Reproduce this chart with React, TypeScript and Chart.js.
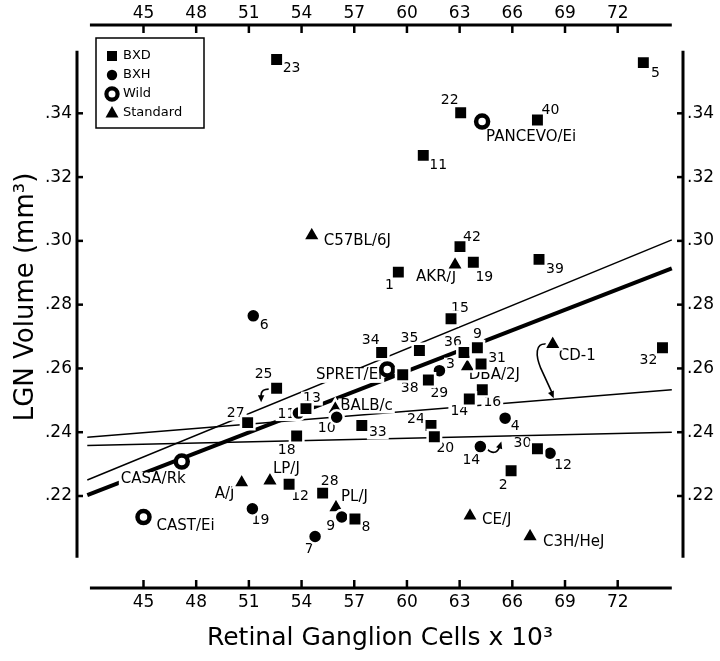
import React, { useEffect, useRef } from 'react';
import { Chart, registerables } from 'chart.js';

Chart.register(...registerables);

// ---------------- data ----------------
const xTickValues = [45, 48, 51, 54, 57, 60, 63, 66, 69, 72];
const yTickValues = [0.22, 0.24, 0.26, 0.28, 0.3, 0.32, 0.34];

const bxdNames = ['23', '5', '22', '40', '11', '42', '19', '1', '39', '15', '34', '35', '36', '9', '31', '38', '29', '32', '25', '16', '14', '13', '27', '33', '24', '18', '20', '30', '2', '12', '28', '8'];
const bxdCells = [52.58, 73.46, 63.06, 67.43, 60.93, 63.02, 63.78, 59.51, 67.52, 62.51, 58.56, 60.71, 63.25, 64.01, 64.22, 59.76, 61.22, 74.55, 52.58, 64.29, 63.55, 54.25, 50.93, 57.43, 61.37, 53.72, 61.56, 67.43, 65.93, 53.29, 55.2, 57.04];
const bxdVolume = [0.3569, 0.3559, 0.3402, 0.3379, 0.3268, 0.2982, 0.2933, 0.2902, 0.2942, 0.2756, 0.265, 0.2656, 0.265, 0.2665, 0.2614, 0.258, 0.2564, 0.2665, 0.2538, 0.2533, 0.2504, 0.2474, 0.243, 0.2421, 0.2421, 0.2388, 0.2386, 0.2348, 0.2279, 0.2237, 0.2209, 0.2128];

const bxhNames = ['6', '3', '11', '10', '4', '14', '12', '19', '9', '7'];
const bxhCells = [51.25, 61.85, 53.82, 56.0, 65.59, 64.18, 68.15, 51.2, 56.29, 54.77];
const bxhVolume = [0.2765, 0.2593, 0.246, 0.2447, 0.2444, 0.2355, 0.2334, 0.216, 0.2134, 0.2073];

const wildNames = ['PANCEVO/Ei', 'SPRET/Ei', 'CASA/Rk', 'CAST/Ei'];
const wildCells = [64.28, 58.88, 47.18, 45.0];
const wildVolume = [0.3374, 0.2597, 0.2308, 0.2134];

const standardNames = ['C57BL/6J', 'AKR/J', 'DBA/2J', 'CD-1', 'BALB/c', 'LP/J', 'A/J', 'PL/J', 'CE/J', 'C3H/HeJ'];
const standardCells = [54.58, 62.74, 63.44, 68.3, 55.92, 52.2, 50.59, 55.96, 63.59, 67.01];
const standardVolume = [0.3017, 0.2925, 0.2606, 0.2676, 0.2473, 0.2248, 0.2242, 0.2164, 0.2138, 0.2073];

const fitCells = [41.8, 75.08];
const fitThick = [0.2203, 0.2914];
const fitUpper = [0.225, 0.3003];
const fitMiddle = [0.2384, 0.2533];
const fitLower = [0.2358, 0.24];

const legendNames = ['BXD', 'BXH', 'Wild', 'Standard'];

// ---------------- layout / style (not data) ----------------
const X_MIN = 41.214;
const X_MAX = 75.718;
const Y_MIN = 0.19115;
const Y_MAX = 0.36769;
const axisCellsExtent = [41.95, 75.08];
const axisVolumeExtent = [0.2006, 0.3596];
const FONT = '"DejaVu Sans", "Liberation Sans", Arial, sans-serif';

// label placement: [align, dx, dy] relative to the marker
const bxdPlaces: [string, number, number][] = [
  ['center', 15, 9], ['center', 12, 11], ['center', -11, -12], ['center', 13, -10], ['center', 15, 10],
  ['center', 12, -9], ['center', 11, 15], ['center', -9, 13], ['center', 16, 10], ['center', 9, -10],
  ['center', -11, -12], ['center', -10, -12], ['center', -11, -10], ['center', 0, -13], ['center', 16, -6],
  ['center', 7, 14], ['center', 11, 13], ['center', -14, 13], ['center', -13, -14], ['center', 10, 13],
  ['center', -10, 12], ['center', 6, -10], ['center', -12, -9], ['center', 16, 7], ['center', -15, -6],
  ['center', -10, 14], ['center', 11, 12], ['center', -15, -5], ['center', -8, 15], ['center', 11, 12],
  ['center', 7, -12], ['center', 11, 8],
];
const bxhPlaces: [string, number, number][] = [
  ['center', 11, 10], ['center', 11, -6], ['center', -12, 1], ['center', -10, 11], ['center', 10, 8],
  ['center', -9, 14], ['center', 13, 12], ['center', 8, 12], ['center', -11, 9], ['center', -6, 13],
];
const wildPlaces: [string, number, number][] = [
  ['left', 4, 16], ['right', -5, 6], ['right', 4, 18], ['left', 13, 9],
];
const standardPlaces: [string, number, number][] = [
  ['left', 12, 6], ['center', -19, 12], ['center', 27, 9], ['left', 6, 12], ['left', 5, -3],
  ['left', 3, -12], ['center', -17, 12], ['left', 5, -10], ['left', 12, 4], ['left', 13, 6],
];

function line(ctx: CanvasRenderingContext2D, x1: number, y1: number, x2: number, y2: number) {
  ctx.beginPath();
  ctx.moveTo(x1, y1);
  ctx.lineTo(x2, y2);
  ctx.stroke();
}

function arrowHead(ctx: CanvasRenderingContext2D, tx: number, ty: number, fx: number, fy: number) {
  const ang = Math.atan2(ty - fy, tx - fx);
  const len = 7;
  const half = 3.2;
  const c = Math.cos(ang);
  const s = Math.sin(ang);
  ctx.beginPath();
  ctx.moveTo(tx, ty);
  ctx.lineTo(tx - len * c + half * s, ty - len * s - half * c);
  ctx.lineTo(tx - len * c - half * s, ty - len * s + half * c);
  ctx.closePath();
  ctx.fill();
}

function drawLabels(chart: any) {
  const ctx: CanvasRenderingContext2D = chart.ctx;
  const groups = [
    { names: bxdNames, ds: 0, places: bxdPlaces, size: 14 },
    { names: bxhNames, ds: 1, places: bxhPlaces, size: 14 },
    { names: wildNames, ds: 2, places: wildPlaces, size: 15 },
    { names: standardNames, ds: 3, places: standardPlaces, size: 15 },
  ];
  const items: any[] = [];
  groups.forEach((g) => {
    const meta = chart.getDatasetMeta(g.ds);
    g.names.forEach((name, i) => {
      const el = meta.data[i];
      const [align, dx, dy] = g.places[i];
      items.push({ text: name, x: el.x + dx, y: el.y + dy, align, size: g.size });
    });
  });
  ctx.save();
  items.forEach((it) => {
    ctx.font = `${it.size}px ${FONT}`;
    const w = ctx.measureText(it.text).width;
    const left = it.align === 'left' ? it.x : it.align === 'right' ? it.x - w : it.x - w / 2;
    ctx.fillStyle = '#fff';
    ctx.fillRect(left - 2, it.y - it.size / 2, w + 4, it.size);
  });
  items.forEach((it) => {
    ctx.font = `${it.size}px ${FONT}`;
    ctx.fillStyle = '#000';
    ctx.textAlign = it.align;
    ctx.textBaseline = 'middle';
    ctx.fillText(it.text, it.x, it.y);
  });

  // curved arrows
  ctx.strokeStyle = '#000';
  ctx.fillStyle = '#000';
  ctx.lineWidth = 1.6;
  const p25 = chart.getDatasetMeta(0).data[18];
  ctx.beginPath();
  ctx.moveTo(p25.x - 6, p25.y + 1);
  ctx.quadraticCurveTo(p25.x - 16, p25.y, p25.x - 15.5, p25.y + 8);
  ctx.stroke();
  arrowHead(ctx, p25.x - 15.5, p25.y + 14, p25.x - 15.5, p25.y + 7);

  const p14 = chart.getDatasetMeta(1).data[5];
  ctx.beginPath();
  ctx.moveTo(p14.x + 6, p14.y + 2);
  ctx.quadraticCurveTo(p14.x + 15, p14.y + 10, p14.x + 19, p14.y + 1);
  ctx.stroke();
  arrowHead(ctx, p14.x + 21, p14.y - 5, p14.x + 19, p14.y + 1);

  const pcd = chart.getDatasetMeta(3).data[3];
  ctx.beginPath();
  ctx.moveTo(pcd.x - 6, pcd.y);
  ctx.bezierCurveTo(pcd.x - 18, pcd.y - 2, pcd.x - 17, pcd.y + 12, pcd.x - 12, pcd.y + 24);
  ctx.lineTo(pcd.x - 0.5, pcd.y + 49);
  ctx.stroke();
  arrowHead(ctx, pcd.x + 1, pcd.y + 54, pcd.x - 12, pcd.y + 24);
  ctx.restore();
}

function drawFrame(chart: any) {
  const ctx: CanvasRenderingContext2D = chart.ctx;
  const a = chart.chartArea;
  const xs = chart.scales.x;
  const ys = chart.scales.y;
  ctx.save();
  ctx.strokeStyle = '#000';
  ctx.fillStyle = '#000';
  ctx.lineWidth = 3;
  const xl = xs.getPixelForValue(axisCellsExtent[0]);
  const xr = xs.getPixelForValue(axisCellsExtent[1]);
  const yt = ys.getPixelForValue(axisVolumeExtent[1]);
  const yb = ys.getPixelForValue(axisVolumeExtent[0]);
  line(ctx, xl, a.bottom, xr, a.bottom);
  line(ctx, xl, a.top, xr, a.top);
  line(ctx, a.left, yt, a.left, yb);
  line(ctx, a.right, yt, a.right, yb);
  ctx.lineWidth = 2.5;
  xTickValues.forEach((v) => {
    const px = xs.getPixelForValue(v);
    line(ctx, px, a.bottom, px, a.bottom - 8);
    line(ctx, px, a.top, px, a.top + 8);
  });
  yTickValues.forEach((v) => {
    const py = ys.getPixelForValue(v);
    line(ctx, a.left, py, a.left + 6, py);
    line(ctx, a.right, py, a.right - 6, py);
  });

  // axis titles
  ctx.font = `25px ${FONT}`;
  ctx.textAlign = 'center';
  ctx.textBaseline = 'middle';
  ctx.fillText('Retinal Ganglion Cells x 10\u00B3', (a.left + a.right) / 2, 638);
  ctx.save();
  ctx.translate(26, 297);
  ctx.rotate(-Math.PI / 2);
  ctx.font = `26px ${FONT}`;
  ctx.fillText('LGN Volume (mm\u00B3)', 0, 0);
  ctx.restore();

  // legend
  const lx = a.left + 19;
  const ly = a.top + 13;
  ctx.fillStyle = '#fff';
  ctx.fillRect(lx, ly, 108, 90);
  ctx.lineWidth = 1.5;
  ctx.strokeStyle = '#000';
  ctx.strokeRect(lx, ly, 108, 90);
  ctx.fillStyle = '#000';
  const rows = [18, 37, 56, 74.5];
  const mx = lx + 16;
  ctx.fillRect(mx - 5, ly + rows[0] - 5, 10, 10);
  ctx.beginPath();
  ctx.arc(mx, ly + rows[1], 5.2, 0, Math.PI * 2);
  ctx.fill();
  ctx.beginPath();
  ctx.lineWidth = 4.2;
  ctx.arc(mx, ly + rows[2], 5.6, 0, Math.PI * 2);
  ctx.stroke();
  ctx.beginPath();
  ctx.moveTo(mx, ly + rows[3] - 6.5);
  ctx.lineTo(mx + 6.5, ly + rows[3] + 5);
  ctx.lineTo(mx - 6.5, ly + rows[3] + 5);
  ctx.closePath();
  ctx.fill();
  ctx.font = `13px ${FONT}`;
  ctx.textAlign = 'left';
  ctx.textBaseline = 'middle';
  legendNames.forEach((n, i) => ctx.fillText(n, lx + 27, ly + rows[i]));
  ctx.restore();
}

const decorPlugin = {
  id: 'decor',
  afterDatasetDraw(chart: any, args: any) {
    if (args.index === 4) drawLabels(chart);
  },
  afterDraw(chart: any) {
    drawFrame(chart);
  },
};

export default function App() {
  const ref = useRef<HTMLCanvasElement>(null);
  useEffect(() => {
    document.body.style.margin = '0';
    const canvas = ref.current;
    if (!canvas) return;
    const pts = (xs: number[], ys: number[]) => xs.map((x, i) => ({ x, y: ys[i] }));
    const tickFont = { family: FONT, size: 17 };
    const hidden = { display: false, drawTicks: false };
    const chart = new Chart(canvas, {
      type: 'scatter',
      data: {
        datasets: [
          {
            label: 'BXD', data: pts(bxdCells, bxdVolume), pointStyle: 'rect', pointRadius: 9.5, pointHoverRadius: 9.5,
            pointBackgroundColor: '#000', pointBorderColor: '#fff', pointBorderWidth: 2.5, order: 0,
          },
          {
            label: 'BXH', data: pts(bxhCells, bxhVolume), pointStyle: 'circle', pointRadius: 7, pointHoverRadius: 7,
            pointBackgroundColor: '#000', pointBorderColor: '#fff', pointBorderWidth: 2.5, order: 0,
          },
          {
            label: 'Wild', data: pts(wildCells, wildVolume), pointStyle: 'circle', pointRadius: 6, pointHoverRadius: 6,
            pointBackgroundColor: '#fff', pointBorderColor: '#000', pointBorderWidth: 4.5, order: 0,
          },
          {
            label: 'Standard', data: pts(standardCells, standardVolume), pointStyle: 'triangle', pointRadius: 10, pointHoverRadius: 10,
            pointBackgroundColor: '#000', pointBorderColor: '#fff', pointBorderWidth: 2.5, order: 0,
          },
          {
            type: 'line', label: 'fit', data: pts(fitCells, fitThick), borderColor: '#000', borderWidth: 4,
            pointRadius: 0, showLine: true, fill: false, order: 1,
          },
          {
            type: 'line', label: 'upper', data: pts(fitCells, fitUpper), borderColor: '#000', borderWidth: 1.5,
            pointRadius: 0, showLine: true, fill: false, order: 1,
          },
          {
            type: 'line', label: 'middle', data: pts(fitCells, fitMiddle), borderColor: '#000', borderWidth: 1.5,
            pointRadius: 0, showLine: true, fill: false, order: 1,
          },
          {
            type: 'line', label: 'lower', data: pts(fitCells, fitLower), borderColor: '#000', borderWidth: 1.5,
            pointRadius: 0, showLine: true, fill: false, order: 1,
          },
        ] as any,
      },
      options: {
        animation: false,
        responsive: false,
        events: [],
        layout: { padding: 0 },
        plugins: { legend: { display: false }, tooltip: { enabled: false } },
        scales: {
          x: {
            type: 'linear', position: 'bottom', min: X_MIN, max: X_MAX,
            grid: hidden, border: { display: false },
            ticks: { font: tickFont, color: '#000', padding: 4, callback: (v: any) => String(v) },
            afterBuildTicks: (s: any) => { s.ticks = xTickValues.map((v) => ({ value: v })); },
            afterFit: (s: any) => { s.height = 73; },
          },
          x2: {
            type: 'linear', axis: 'x', position: 'top', min: X_MIN, max: X_MAX,
            grid: hidden, border: { display: false },
            ticks: { font: tickFont, color: '#000', padding: 1, callback: (v: any) => String(v) },
            afterBuildTicks: (s: any) => { s.ticks = xTickValues.map((v) => ({ value: v })); },
            afterFit: (s: any) => { s.height = 25; },
          },
          y: {
            type: 'linear', position: 'left', min: Y_MIN, max: Y_MAX,
            grid: hidden, border: { display: false },
            ticks: { font: tickFont, color: '#000', padding: 5, callback: (v: any) => '.' + Math.round(v * 100) },
            afterBuildTicks: (s: any) => { s.ticks = yTickValues.map((v) => ({ value: v })); },
            afterFit: (s: any) => { s.width = 77; },
          },
          y2: {
            type: 'linear', axis: 'y', position: 'right', min: Y_MIN, max: Y_MAX,
            grid: hidden, border: { display: false },
            ticks: { font: tickFont, color: '#000', padding: 4, callback: (v: any) => '.' + Math.round(v * 100) },
            afterBuildTicks: (s: any) => { s.ticks = yTickValues.map((v) => ({ value: v })); },
            afterFit: (s: any) => { s.width = 37; },
          },
        },
      } as any,
      plugins: [decorPlugin],
    });
    return () => chart.destroy();
  }, []);
  return (
    <div style={{ width: 720, height: 661, background: '#fff' }}>
      <canvas ref={ref} width={720} height={661} style={{ display: 'block', width: 720, height: 661 }} />
    </div>
  );
}
